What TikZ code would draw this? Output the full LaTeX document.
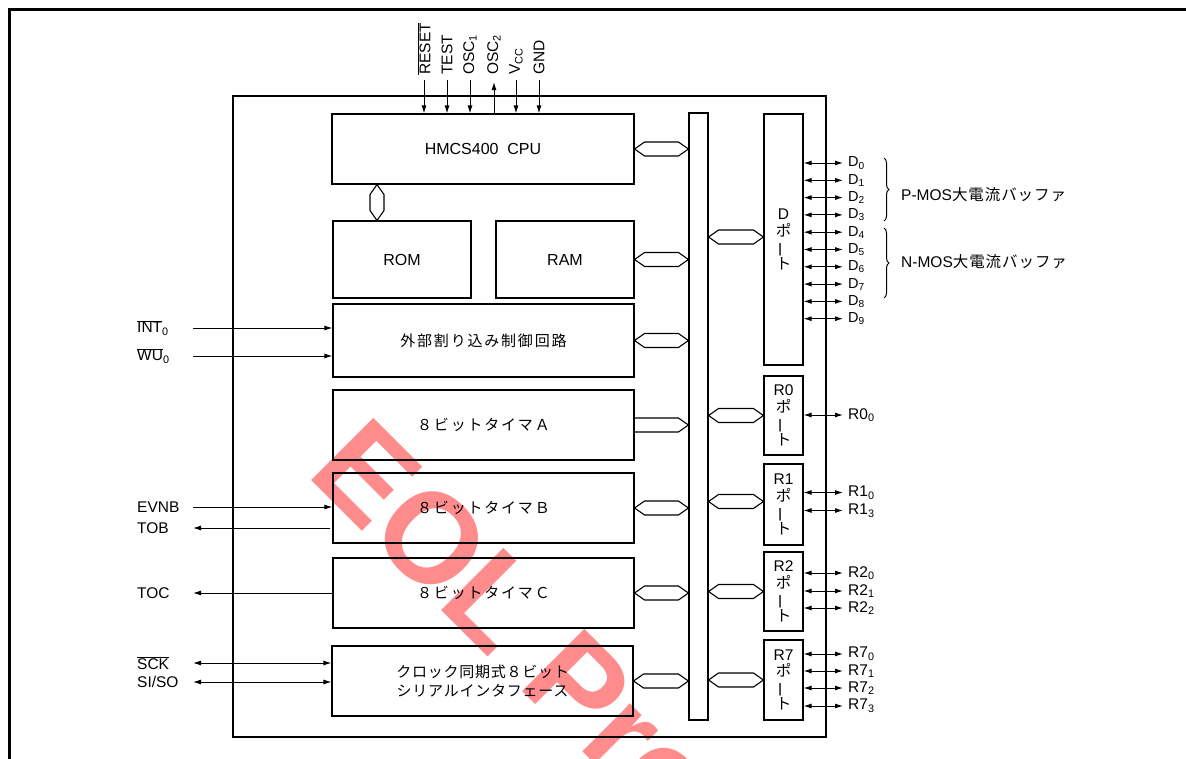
\documentclass[tikz,border=0pt]{standalone}
\usepackage{fontspec}
\setmainfont{Liberation Sans}
\newfontfamily\jp[LetterSpace=12]{Noto Sans CJK JP}
\newfontfamily\jps[LetterSpace=5]{Noto Sans CJK JP}
\newfontfamily\jpn{Noto Sans CJK JP}
\newfontfamily\jpr[LetterSpace=6]{Noto Sans CJK JP}
\usetikzlibrary{arrows.meta,decorations.pathreplacing,calc}
\definecolor{wmred}{RGB}{255,140,140}
\newcommand\hexlink[2]{%
  \draw[hexs] (#1) -- ([shift={(10,-7)}]#1) -- ([shift={(-10,-7)}]#2) -- (#2)
    -- ([shift={(-10,7)}]#2) -- ([shift={(10,7)}]#1) -- cycle;}
\newcommand\vport[1]{#1\\{\jpn ポ}\\\rotatebox[origin=c]{90}{\jpn ー}\\{\jpn ト}}
\tikzset{
  box/.style={draw, line width=1.1pt, inner sep=0pt, font=\fontsize{16}{19}\selectfont},
  jbox/.style={box, font=\jp\fontsize{15}{19}\selectfont, align=center},
  port/.style={draw, line width=1.1pt, inner sep=0pt, minimum width=39pt, align=center,
    font=\fontsize{15.5}{16.5}\selectfont},
  wire/.style={line width=1pt},
  ar/.style={wire, -{Latex[length=8pt,width=5pt]}},
  dar/.style={wire, {Latex[length=8pt,width=5pt]}-{Latex[length=8pt,width=5pt]}},
  hexs/.style={line width=1.1pt, line join=miter},
  pin/.style={rotate=90, anchor=west, inner sep=0pt, font=\fontsize{15.5}{17}\selectfont},
  lbl/.style={anchor=west, inner sep=0pt, font=\fontsize{15.5}{18}\selectfont},
  dlbl/.style={anchor=west, inner sep=0pt, font=\fontsize{14.5}{15}\selectfont},
  rlbl/.style={anchor=west, inner sep=0pt, font=\fontsize{15.5}{17}\selectfont},
}
\begin{document}
\begin{tikzpicture}[x=1pt,y=-1pt]
\useasboundingbox (0,0) rectangle (1186,758);
% watermark
\node[rotate=-45, anchor=base west, inner sep=0pt, text=wmred,
  font=\fontsize{128}{128}\selectfont\bfseries] (wm) at (305,474) {EOL Pro};
% outer frame
\draw[line width=2.5pt] (9.5,760) -- (9.5,9.5) -- (1190,9.5);
% chip
\node[box, minimum width=593pt, minimum height=641pt] (chip) at (529.5,416.5) {};
% blocks
\node[box, minimum width=302pt, minimum height=70pt] (cpu) at (483,149) {HMCS400\ \ CPU};
\node[box, minimum width=138pt, minimum height=77pt] (rom) at (402,259.5) {ROM};
\node[box, minimum width=138pt, minimum height=77pt] (ram) at (565,259.5) {RAM};
\node[jbox, minimum width=301pt, minimum height=73pt] (intr) at (483.5,340.5) {外部割り込み制御回路};
\node[jbox, minimum width=301pt, minimum height=70pt] (ta) at (483.5,425) {８ビットタイマＡ};
\node[jbox, minimum width=301pt, minimum height=70pt] (tb) at (483.5,508) {８ビットタイマＢ};
\node[jbox, minimum width=301pt, minimum height=70pt] (tc) at (483.5,593) {８ビットタイマＣ};
\node[jbox, font=\jps\fontsize{15}{19}\selectfont, minimum width=301pt, minimum height=70pt] (ser) at (482.5,681) {クロック同期式８ビット\\シリアルインタフェース};
% bus
\node[box, minimum width=19pt, minimum height=607pt] (bus) at (698.5,416.5) {};
% ports
\node[port, minimum height=251pt] (dp) at (783.5,239.5) {\vport{D}};
\node[port, minimum height=79pt] (r0) at (783.5,415.5) {\vport{R0}};
\node[port, minimum height=81pt] (r1) at (783.5,504.5) {\vport{R1}};
\node[port, minimum height=79pt] (r2) at (783.5,591.5) {\vport{R2}};
\node[port, minimum height=80pt] (r7) at (783.5,680) {\vport{R7}};
% bus links left
\coordinate (b1) at (bus.west |- cpu.east);  \hexlink{cpu.east}{b1}
\coordinate (b2) at (bus.west |- ram.east);  \hexlink{ram.east}{b2}
\coordinate (b3) at (bus.west |- intr.east); \hexlink{intr.east}{b3}
\coordinate (b4) at (bus.west |- ta.east);
\draw[hexs] ([shift={(0,-7)}]ta.east) -- ([shift={(-10,-7)}]b4) -- (b4)
  -- ([shift={(-10,7)}]b4) -- ([shift={(0,7)}]ta.east);
\coordinate (b5) at (bus.west |- tb.east);   \hexlink{tb.east}{b5}
\coordinate (b6) at (bus.west |- tc.east);   \hexlink{tc.east}{b6}
\coordinate (b7) at (bus.west |- ser.east);  \hexlink{ser.east}{b7}
% bus links right
\coordinate (e1) at ([yshift=2.5pt]bus.east |- dp.west); \coordinate (e1p) at (dp.west |- e1); \hexlink{e1}{e1p}
\coordinate (e2) at (bus.east |- r0.west); \hexlink{e2}{r0.west}
\coordinate (e3) at ([yshift=3pt]bus.east |- r1.west); \coordinate (e3p) at (r1.west |- e3); \hexlink{e3}{e3p}
\coordinate (e4) at (bus.east |- r2.west); \hexlink{e4}{r2.west}
\coordinate (e5) at (bus.east |- r7.west); \hexlink{e5}{r7.west}
% CPU - ROM
\coordinate (v2) at ([xshift=-25pt]rom.north);
\coordinate (v1) at (v2 |- cpu.south);
\draw[hexs] (v1) -- ([shift={(7,10)}]v1) -- ([shift={(7,-10)}]v2) -- (v2)
  -- ([shift={(-7,-10)}]v2) -- ([shift={(-7,10)}]v1) -- cycle;
% top pins
\node[pin] (reset) at (424,75) {$\overline{\hbox{RESET}}$};
\node[pin] (test) at (447,75) {TEST};
\node[pin] (osc1) at (470,75) {OSC\textsubscript{1}};
\node[pin] (osc2) at (494,75) {OSC\textsubscript{2}};
\node[pin] (vcc) at (516,75) {V\textsubscript{CC}};
\node[pin] (gnd) at (539,75) {GND};
\draw[ar] ([shift={(0,5)}]reset.west) -- (cpu.north -| reset.west);
\draw[ar] ([shift={(0,5)}]test.west) -- (cpu.north -| test.west);
\draw[ar] ([shift={(0,5)}]osc1.west) -- (cpu.north -| osc1.west);
\draw[ar] (cpu.north -| osc2.west) -- ([shift={(0,7)}]osc2.west);
\draw[ar] ([shift={(0,5)}]vcc.west) -- (cpu.north -| vcc.west);
\draw[ar] ([shift={(0,5)}]gnd.west) -- (cpu.north -| gnd.west);
% D port lines
\foreach \i in {0,...,9}{
  \node[dlbl] (d\i) at (848,163+17.3*\i) {D\textsubscript{\i}};
  \draw[dar] (dp.east |- d\i.west) -- ([xshift=-5pt]d\i.west);
}
% braces
\draw[line width=1pt, decorate, decoration={brace, amplitude=5pt}] (884,158) -- (884,221);
\draw[line width=1pt, decorate, decoration={brace, amplitude=5pt}] (884,228) -- (884,298);
\node[rlbl] (pmos) at (901,195) {P-MOS{\jpr 大電流バッファ}};
\node[rlbl] (nmos) at (901,262) {N-MOS{\jpr 大電流バッファ}};
% R port lines
\node[rlbl] (r00) at (848,415) {R0\textsubscript{0}};
\node[rlbl] (r10) at (848,492.5) {R1\textsubscript{0}};
\node[rlbl] (r13) at (848,510.5) {R1\textsubscript{3}};
\node[rlbl] (r20) at (848,573) {R2\textsubscript{0}};
\node[rlbl] (r21) at (848,591) {R2\textsubscript{1}};
\node[rlbl] (r22) at (848,608) {R2\textsubscript{2}};
\node[rlbl] (r70) at (848,654) {R7\textsubscript{0}};
\node[rlbl] (r71) at (848,671) {R7\textsubscript{1}};
\node[rlbl] (r72) at (848,688) {R7\textsubscript{2}};
\node[rlbl] (r73) at (848,706) {R7\textsubscript{3}};
\draw[dar] (r0.east |- r00.west) -- ([xshift=-5pt]r00.west);
\draw[dar] (r1.east |- r10.west) -- ([xshift=-5pt]r10.west);
\draw[dar] (r1.east |- r13.west) -- ([xshift=-5pt]r13.west);
\draw[dar] (r2.east |- r20.west) -- ([xshift=-5pt]r20.west);
\draw[dar] (r2.east |- r21.west) -- ([xshift=-5pt]r21.west);
\draw[dar] (r2.east |- r22.west) -- ([xshift=-5pt]r22.west);
\draw[dar] (r7.east |- r70.west) -- ([xshift=-5pt]r70.west);
\draw[dar] (r7.east |- r71.west) -- ([xshift=-5pt]r71.west);
\draw[dar] (r7.east |- r72.west) -- ([xshift=-5pt]r72.west);
\draw[dar] (r7.east |- r73.west) -- ([xshift=-5pt]r73.west);
% left signals
\node[lbl] (int0) at (137,328) {$\overline{\hbox{INT}}$\textsubscript{0}};
\node[lbl] (wu0) at (137,356) {$\overline{\hbox{WU}}$\textsubscript{0}};
\node[lbl] (evnb) at (137,507) {EVNB};
\node[lbl] (tob) at (137,528) {TOB};
\node[lbl] (toc) at (137,593) {TOC};
\node[lbl] (sck) at (137,663) {$\overline{\hbox{SCK}}$};
\node[lbl] (siso) at (137,682) {SI/SO};
\coordinate (int0w) at (193,328);
\coordinate (wu0w) at (193,356);
\coordinate (evnbw) at (193,507);
\coordinate (tobw) at (193,528);
\coordinate (tocw) at (193,593);
\coordinate (sckw) at (193,663);
\coordinate (sisow) at (193,682);
\draw[ar] (int0w) -- (intr.west |- int0w);
\draw[ar] (wu0w) -- (intr.west |- wu0w);
\draw[ar] (evnbw) -- (tb.west |- evnbw);
\draw[ar] ([xshift=-2pt]tb.west |- tobw) -- (tobw);
\draw[ar] (tc.west |- tocw) -- (tocw);
\draw[dar] (sckw) -- (ser.west |- sckw);
\draw[dar] (sisow) -- (ser.west |- sisow);
\end{tikzpicture}
\end{document}
